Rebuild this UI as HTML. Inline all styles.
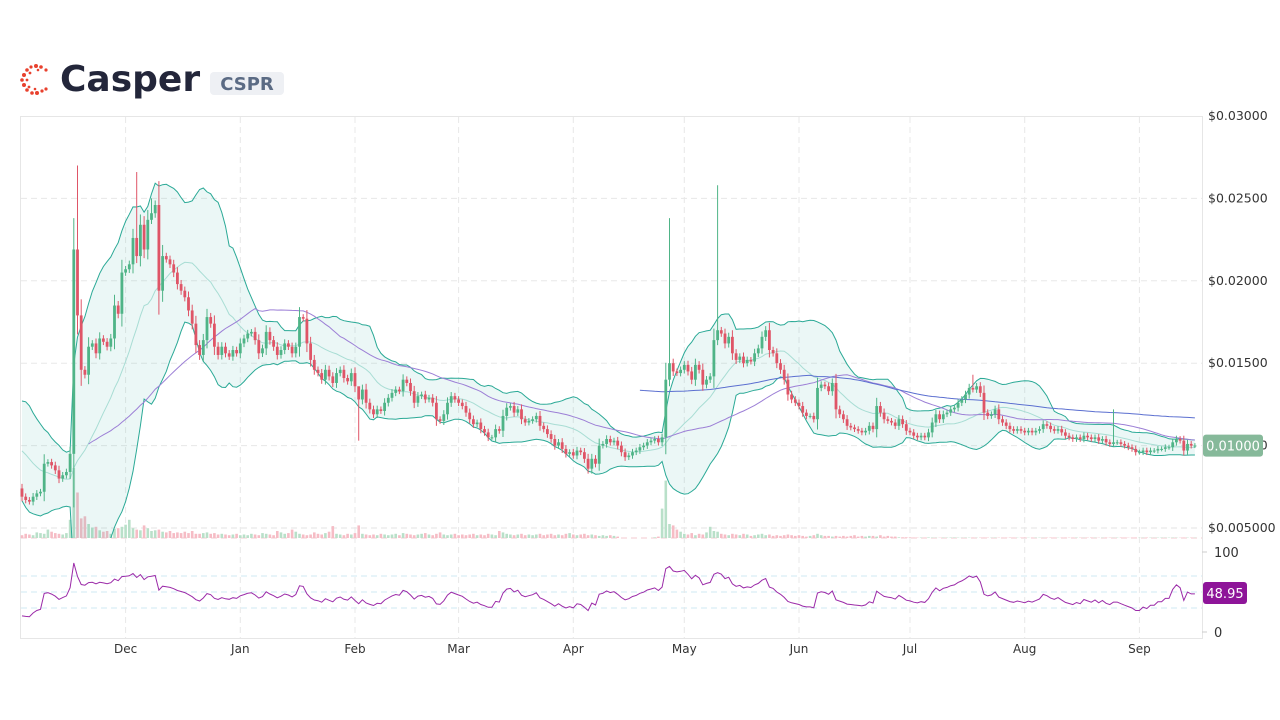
<!DOCTYPE html>
<html><head><meta charset="utf-8"><style>
html,body{margin:0;padding:0;background:#fff;width:1280px;height:720px;overflow:hidden;font-family:"DejaVu Sans","Liberation Sans",sans-serif}
svg{display:block}
</style></head><body>
<svg id="chart" width="1280" height="720" viewBox="0 0 1280 720" xmlns="http://www.w3.org/2000/svg">
<defs>
<clipPath id="mainClip"><rect x="21" y="117" width="1181" height="421"/></clipPath>
<clipPath id="rsiClip"><rect x="21" y="540" width="1181" height="98"/></clipPath>
</defs>
<g>
<g fill="#e8412e">
<circle cx="36" cy="66" r="2"/><circle cx="31" cy="67" r="1.6"/><circle cx="41" cy="67" r="1.8"/><circle cx="46" cy="70" r="1.6"/><circle cx="27" cy="70" r="1.8"/><circle cx="24" cy="75" r="2"/><circle cx="30" cy="73" r="1.4"/><circle cx="22" cy="80" r="1.8"/><circle cx="27" cy="80" r="1.4"/><circle cx="24" cy="85" r="2"/><circle cx="29" cy="87" r="1.4"/><circle cx="27" cy="90" r="1.8"/><circle cx="32" cy="93" r="1.8"/><circle cx="37" cy="93" r="2"/><circle cx="42" cy="91" r="1.6"/><circle cx="46" cy="89" r="1.6"/><circle cx="38" cy="70" r="1.3"/><circle cx="35" cy="89" r="1.3"/>
</g>
<text x="60" y="91" font-size="36" font-weight="bold" fill="#23263a">Casper</text>
<rect x="210" y="72" width="74" height="23" rx="4" fill="#eef0f4"/>
<text x="247" y="90" font-size="18" font-weight="bold" fill="#5b6b84" text-anchor="middle">CSPR</text>
</g>
<rect x="20.5" y="116.5" width="1182" height="522" fill="none" stroke="#e6e6e6"/>
<g id="grid"></g>
<g id="vol"></g>
<g id="bands" clip-path="url(#mainClip)"></g>
<g id="candles"></g>
<g id="rsi" clip-path="url(#rsiClip)"></g>
<g id="axes"></g>
</svg>
<script>
const preCloses=[11.6,11.2,11.9,12.2,11.5,11.0,10.9,10.3,10.7,10.1,9.7,9.9,9.3,9.1,8.7,8.9,8.3,7.9,7.7,7.4];
const closes=[6.9,6.7,6.6,6.9,7.1,7.2,8.9,9.0,8.8,8.5,
8.0,8.2,8.4,9.5,21.9,17.9,14.6,14.3,16.0,16.2,
15.6,16.5,16.3,16.0,16.5,18.5,18.0,20.5,20.7,21.0,
22.6,21.5,23.4,21.9,23.7,24.1,24.6,19.4,21.5,21.3,
21.0,20.5,19.8,19.4,19.0,18.2,17.4,16.1,15.5,16.4,
17.8,17.4,16.0,15.5,16.0,15.6,15.4,15.8,15.6,16.2,
16.5,16.8,16.9,16.4,15.6,15.9,16.9,16.4,16.0,15.5,
15.8,16.2,16.0,15.6,16.0,17.8,17.7,16.2,15.2,14.6,
14.4,14.0,14.6,14.2,13.8,14.4,14.6,14.1,13.9,14.4,
13.6,12.8,13.4,12.6,12.2,11.9,12.2,12.1,12.6,12.9,
13.2,13.4,13.3,14.0,13.8,13.3,12.6,13.0,13.1,12.8,
12.9,12.6,11.6,11.5,11.9,12.6,13.0,12.8,12.6,12.4,
12.0,11.6,11.3,11.4,11.0,10.8,10.5,10.5,11.0,10.9,
11.8,12.3,12.4,12.0,12.2,11.6,11.4,11.5,11.6,11.8,
11.2,11.0,10.7,10.4,10.0,10.2,9.8,9.5,9.6,9.4,
9.7,9.6,9.2,8.6,9.2,8.9,10.0,10.1,10.4,10.2,
10.3,10.0,9.6,9.3,9.4,9.6,9.7,9.9,10.0,10.2,
10.3,10.4,10.2,10.5,14.0,15.0,14.5,14.4,14.6,14.9,
14.5,14.0,14.9,14.6,13.7,14.0,14.2,16.4,17.0,16.8,
16.2,16.6,15.6,15.2,15.4,15.0,15.2,15.1,15.6,15.9,
16.6,17.0,15.8,15.6,15.0,14.6,14.0,13.1,12.8,12.6,
12.4,12.0,11.8,11.8,11.6,13.5,13.7,13.6,13.3,13.8,
12.2,11.9,11.6,11.2,11.1,11.0,10.9,10.8,10.9,11.2,
11.0,12.4,12.0,11.6,11.5,11.4,11.2,11.6,11.3,10.9,
10.8,10.6,10.5,10.6,10.5,10.8,11.4,11.9,11.6,11.9,
12.0,12.2,12.3,12.6,12.8,13.1,13.5,13.4,13.6,13.2,
12.0,11.8,11.9,12.2,11.6,11.4,11.2,11.0,10.9,11.0,
10.9,10.8,10.9,10.8,10.9,11.0,11.3,11.2,11.0,10.9,
11.0,10.8,10.6,10.5,10.4,10.5,10.4,10.6,10.5,10.4,
10.5,10.3,10.4,10.2,10.1,10.2,10.2,10.1,10.0,9.9,
9.8,9.6,9.6,9.7,9.6,9.7,9.7,9.8,9.8,9.9,
9.9,10.2,10.4,10.3,9.7,10.1,10.0,10.0];
const spikeIdx=[14,15,31,35,91,175,188,257,295];
const spikeHigh=[23.8,27.0,26.6,25.0,13.0,23.8,25.8,14.3,12.2];
const volumes=[40,60,50,40,80,70,60,120,90,70,
60,50,70,260,1000,650,280,310,200,150,
160,110,90,100,60,130,140,160,190,260,
140,120,110,180,140,100,110,120,90,80,
100,70,80,70,90,70,100,60,60,70,
80,60,70,50,60,50,40,50,60,40,
50,40,60,50,40,70,60,50,40,100,
80,60,70,120,90,60,50,40,50,80,
60,50,70,90,170,60,50,40,60,50,
70,180,60,50,40,50,40,60,50,40,
50,60,40,70,60,50,40,50,60,70,
50,40,60,80,50,40,50,60,40,50,
40,50,60,40,50,40,60,50,40,100,
80,60,50,40,50,60,40,50,40,50,
60,40,50,60,40,50,40,60,70,50,
40,50,60,40,50,40,30,40,30,40,
30,20,0,0,0,0,0,0,0,0,
0,10,20,420,820,200,180,120,90,60,
50,70,40,60,50,80,160,100,90,60,
50,40,60,50,40,60,50,30,40,50,
60,40,50,30,40,30,40,50,40,30,
40,30,20,30,40,60,40,30,30,20,
30,20,30,20,30,40,20,30,20,30,
30,20,40,20,30,20,20,10,10,10,
8,6,5,6,5,8,6,5,4,6,
5,6,8,5,4,6,5,6,4,5,
6,5,4,6,5,4,5,6,5,4,
5,6,4,5,6,5,4,5,6,5,
4,5,6,5,4,6,5,4,5,6,
5,4,5,6,5,4,5,6,5,4,
5,6,4,5,6,5,4,5,6,5,
5,6,5,4,6,5,5,5];
const priceTicks=[0.03,0.025,0.02,0.015,0.01,0.005];
const priceTickLabels=["$0.03000","$0.02500","$0.02000","$0.01500","$0.01000","$0.005000"];
const months=["Dec","Jan","Feb","Mar","Apr","May","Jun","Jul","Aug","Sep"];
const monthIdx=[28,59,90,118,149,179,210,240,271,302];
const rsiTicks=[100,0];
const lastPrice="0.01000";

const NS="http://www.w3.org/2000/svg";
const X=i=>22+i*3.7;
const Y=p=>116+(0.03-p/1000)*16480;
const YT=p=>116+(0.03-p)*16480;
const RY=r=>632-r*0.8;
const VY=v=>538-v*0.07;
function mk(tag,attrs,parent){const e=document.createElementNS(NS,tag);for(const k in attrs)e.setAttribute(k,attrs[k]);parent.appendChild(e);return e;}
const G=id=>document.getElementById(id);
const grid=G('grid'),axes=G('axes');
priceTicks.forEach((p,k)=>{
 if(k>0&&k<5){const l=mk('line',{x1:21,x2:1202,y1:YT(p),y2:YT(p),stroke:'#e8e8e8','stroke-dasharray':'6 4'},grid);
 
 }
 const t=mk('text',{x:1208,y:YT(p)+4,'font-size':12.5,fill:'#333'},axes);t.textContent=priceTickLabels[k];
 
 
});
[[528,'#e3e3e3'],[538,'#f3c9cf']].forEach(a=>{const l=mk('line',{x1:21,x2:1202,y1:a[0],y2:a[0],stroke:a[1],'stroke-dasharray':'6 4'},grid);
 
 });
[70,50,30].forEach(r=>{const l=mk('line',{x1:21,x2:1202,y1:RY(r),y2:RY(r),stroke:'#cfe9f3','stroke-dasharray':'6 4'},grid);
 
 });
months.forEach((m,k)=>{const x=X(monthIdx[k]);
 const l=mk('line',{x1:x,x2:x,y1:117,y2:638,stroke:'#e8e8e8','stroke-dasharray':'6 4'},grid);
 
 
 const t=mk('text',{x:x,y:653,'font-size':12,fill:'#333','text-anchor':'middle'},axes);t.textContent=m;
 
 });
rsiTicks.forEach(r=>{const t=mk('text',{x:1214,y:RY(r)+5,'font-size':13,fill:'#333'},axes);t.textContent=String(r);
 
 
 const l=mk('line',{x1:1202,x2:1207,y1:RY(r),y2:RY(r),stroke:'#ccc'},axes);
 
 });

const n=closes.length,P=preCloses.length;
const all=preCloses.concat(closes);
const opens=closes.map((c,i)=>i===0?preCloses[P-1]:closes[i-1]);
// volumes
const vol=G('vol');
volumes.forEach((v,i)=>{if(v<=0)return;const upc=closes[i]>=opens[i];
 const r=mk('rect',{x:X(i)-1.3,y:VY(v),width:2.6,height:538-VY(v),fill:upc?'#b9e0c9':'#f6bcc5'},vol);
 
 });
// bollinger
const mid=[],up=[],lo=[];
for(let i=0;i<n;i++){const j=i+P,w=all.slice(Math.max(0,j-19),j+1);const m=w.reduce((a,b)=>a+b,0)/w.length;
 const sd=Math.sqrt(w.reduce((a,b)=>a+(b-m)*(b-m),0)/w.length);mid.push(m);up.push(m+2*sd);lo.push(m-2*sd);}
const bands=G('bands');
const pts=a=>a.map((v,i)=>X(i).toFixed(1)+','+Y(v).toFixed(1));
const fill=mk('polygon',{points:pts(up).concat(pts(lo).reverse()).join(' '),fill:'rgba(38,166,154,0.09)'},bands);


[[up,'#2aa996',1,'bollinger-upper'],[lo,'#2aa996',1,'bollinger-lower'],[mid,'#a8ddd4',1,'bollinger-middle']].forEach(a=>{
 const l=mk('polyline',{points:pts(a[0]).join(' '),fill:'none',stroke:a[1],'stroke-width':a[2]},bands);
 
 });
function ma(win,start){const o=[];for(let i=start;i<n;i++){const j=i+P,w=all.slice(Math.max(0,j-win+1),j+1);o.push(X(i).toFixed(1)+','+Y(w.reduce((a,b)=>a+b,0)/w.length).toFixed(1));}return o.join(' ');}
const m50=mk('polyline',{points:ma(50,18),fill:'none',stroke:'#9c7fd6','stroke-width':1},bands);


const m200=mk('polyline',{points:ma(200,167),fill:'none',stroke:'#5b6fd0','stroke-width':1},bands);


// candles
const cg=G('candles');
for(let i=0;i<n;i++){const o=opens[i],c=closes[i],upc=c>=o;const col=upc?'#4fb487':'#df5567';
 const w=Math.abs(c-o)*0.25+0.15;let hi=Math.max(o,c)+w,lw=Math.min(o,c)-w;
 const k=spikeIdx.indexOf(i);if(k>=0)hi=spikeHigh[k];if(i===91)lw=10.3;
 const g=mk('g',{},cg);
 
 
 mk('line',{x1:X(i),x2:X(i),y1:Y(hi),y2:Y(lw),stroke:col,'stroke-width':1},g);
 const t=Y(Math.max(o,c)),b=Y(Math.min(o,c));
 mk('rect',{x:X(i)-1.4,y:t,width:2.8,height:Math.max(1,b-t),fill:col},g);}
// RSI (Wilder 14) over full history
const rsiAll=[];let ag=0,al=0;
for(let j=1;j<all.length;j++){const d=all[j]-all[j-1];const g=Math.max(d,0),l=Math.max(-d,0);
 if(j<=14){ag=(ag*(j-1)+g)/j;al=(al*(j-1)+l)/j;}else{ag=(ag*13+g)/14;al=(al*13+l)/14;}
 rsiAll.push(al===0?70:100-100/(1+ag/al));}
const rsi=rsiAll.slice(P-1);
const rl=mk('polyline',{points:rsi.map((r,k)=>X(k).toFixed(1)+','+RY(r).toFixed(1)).join(' '),fill:'none',stroke:'#9b2aa8','stroke-width':1},G('rsi'));


// labels
const pl=mk('rect',{x:1203,y:Y(closes[n-1])-11,width:60,height:22,rx:3,fill:'#86b99a'},axes);


const pt=mk('text',{x:1233,y:Y(closes[n-1])+5,'font-size':13,fill:'#fff','text-anchor':'middle'},axes);pt.textContent=lastPrice;


const rb=mk('rect',{x:1203,y:582,width:44,height:22,rx:3,fill:'#8e1599'},axes);


const rt=mk('text',{x:1225,y:598,'font-size':13,fill:'#fff','text-anchor':'middle'},axes);rt.textContent="48.95";


</script>
</body></html>
